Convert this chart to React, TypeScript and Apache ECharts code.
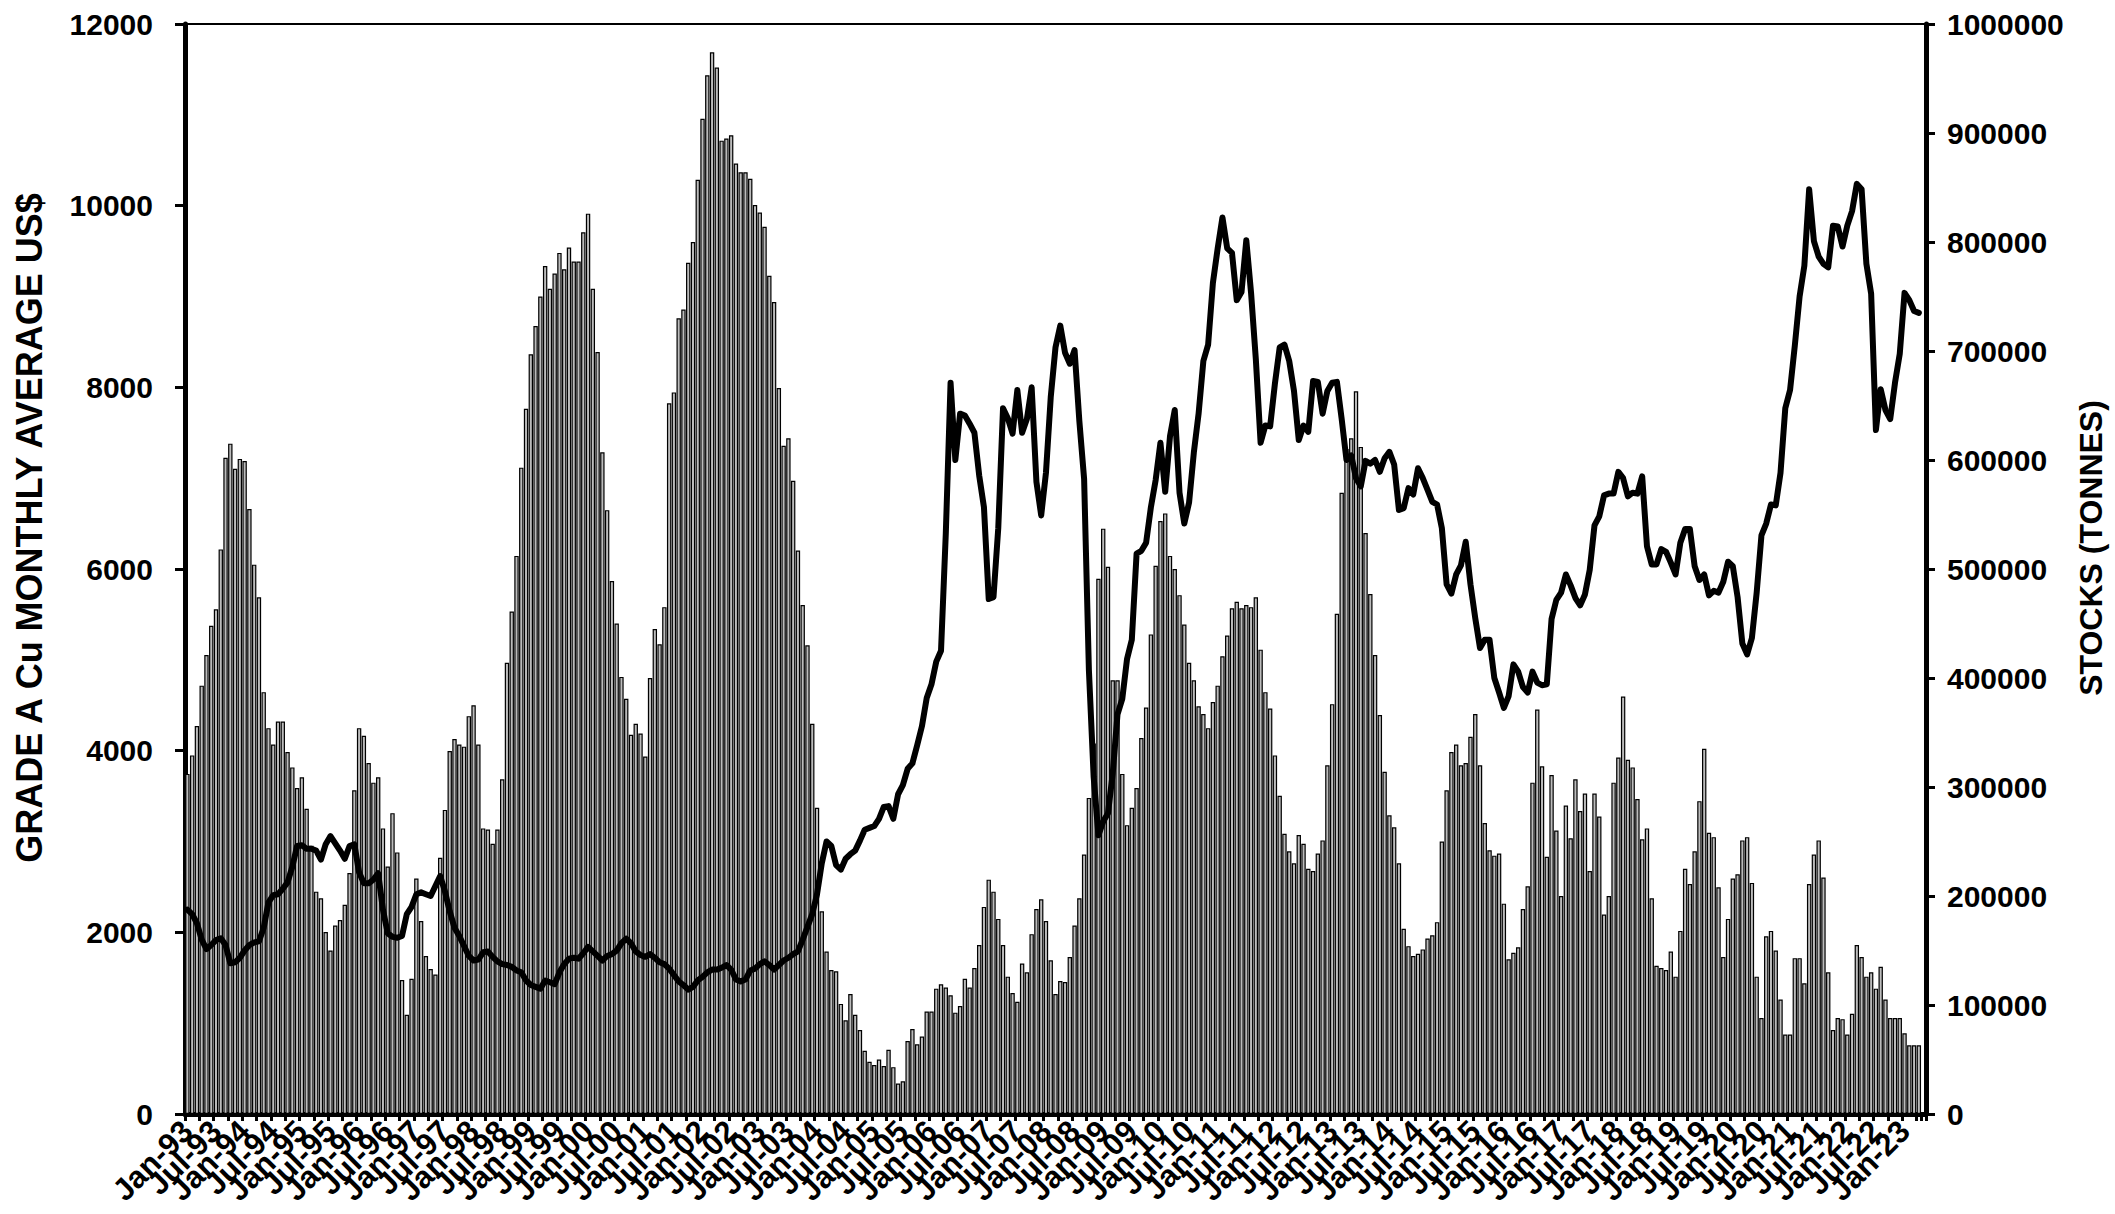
import React, { useEffect, useRef } from 'react';
import * as echarts from 'echarts';

// ---- categories ----
const MONTHS = ['Jan', 'Feb', 'Mar', 'Apr', 'May', 'Jun', 'Jul', 'Aug', 'Sep', 'Oct', 'Nov', 'Dec'];
const FIRST_YEAR = 1993;
const CATEGORY_COUNT = 365; // Jan-93 .. May-23 (last slot empty)
const LABEL_EVERY = 6; // a label every six months

// ---- Grade A Cu monthly average price, US$/t (left axis) ----
const PRICE_1993_1999 = [
  2250, 2200, 2100, 1920, 1815, 1860, 1915, 1935, 1860, 1660, 1670, 1720,
  1800, 1860, 1890, 1900, 2050, 2330, 2410, 2420, 2480, 2550, 2720, 2950,
  2960, 2920, 2920, 2900, 2800, 2970, 3060, 2980, 2900, 2810, 2950, 2970,
  2660, 2540, 2540, 2580, 2650, 2250, 1990, 1950, 1940, 1960, 2200, 2280,
  2420, 2440, 2420, 2400, 2510, 2620, 2450, 2230, 2050, 1960, 1850, 1740,
  1690, 1700, 1780, 1790, 1730, 1680, 1650, 1640, 1620, 1580, 1560, 1470,
  1420, 1400, 1380, 1470, 1450, 1430, 1560, 1650, 1710, 1720, 1710, 1770,
];
const PRICE_2000_2009 = [
  1840, 1790, 1740, 1690, 1740, 1760, 1800, 1880, 1930, 1880, 1790, 1750,
  1730, 1760, 1720, 1670, 1650, 1600, 1530, 1460, 1420, 1370, 1400, 1470,
  1510, 1560, 1590, 1590, 1610, 1640, 1590, 1480, 1460, 1480, 1580, 1600,
  1650, 1680, 1640, 1590, 1640, 1690, 1720, 1760, 1790, 1920, 2060, 2200,
  2420, 2760, 3000, 2950, 2740, 2690, 2810, 2860, 2900, 3010, 3130, 3150,
  3170, 3250, 3380, 3390, 3250, 3520, 3620, 3800, 3860, 4060, 4270, 4580,
  4730, 4980, 5100, 6390, 8050, 7200, 7710, 7690, 7600, 7500, 7030, 6680,
  5670, 5690, 6450, 7770, 7660, 7490, 7970, 7500, 7650, 8000, 6960, 6590,
  7060, 7890, 8440, 8680, 8380, 8260, 8410, 7630, 6990, 4890, 3710, 3070,
  3220, 3310, 3750, 4400, 4570, 5010, 5220, 6170, 6200, 6290, 6680, 6980,
];
const PRICE_2010_2019 = [
  7390, 6850, 7460, 7750, 6840, 6500, 6730, 7280, 7710, 8290, 8470, 9150,
  9530, 9870, 9530, 9480, 8960, 9050, 9620, 9040, 8310, 7390, 7580, 7570,
  8040, 8440, 8470, 8290, 7960, 7420, 7580, 7510, 8070, 8060, 7710, 7960,
  8050, 8060, 7650, 7200, 7250, 7000, 6910, 7190, 7160, 7200, 7070, 7220,
  7290, 7150, 6650, 6670, 6890, 6820, 7110, 7000, 6870, 6740, 6710, 6450,
  5830, 5730, 5940, 6040, 6300, 5830, 5460, 5130, 5220, 5220, 4800, 4640,
  4470, 4600, 4950, 4870, 4700, 4640, 4870, 4750, 4720, 4730, 5450, 5660,
  5740, 5940, 5820, 5680, 5600, 5720, 5990, 6480, 6580, 6810, 6830, 6830,
  7070, 7000, 6800, 6840, 6830, 7020, 6250, 6050, 6050, 6220, 6190, 6070,
  5940, 6290, 6440, 6440, 6030, 5880, 5940, 5710, 5760, 5740, 5860, 6080,
];
const PRICE_2020_2023 = [
  6030, 5690, 5180, 5060, 5240, 5740, 6370, 6500, 6710, 6700, 7060, 7770,
  7970, 8460, 9000, 9340, 10180, 9610, 9440, 9360, 9320, 9780, 9770, 9550,
  9780, 9940, 10240, 10180, 9360, 9030, 7530, 7980, 7750, 7650, 8050, 8370,
  9040, 8960, 8840, 8820,
];

// ---- Stocks, tonnes (right axis) ----
const STOCKS_1993_1999 = [
  312000, 329000, 356000, 393000, 421000, 448000, 463000, 518000, 602000, 615000, 592000, 601000,
  599000, 555000, 504000, 474000, 387000, 354000, 339000, 360000, 360000, 332000, 318000, 299000,
  309000, 280000, 246000, 204000, 198000, 167000, 150000, 173000, 178000, 192000, 221000, 297000,
  354000, 347000, 322000, 304000, 309000, 262000, 227000, 276000, 240000, 123000, 91000, 124000,
  216000, 177000, 145000, 133000, 128000, 235000, 279000, 333000, 344000, 339000, 337000, 365000,
  375000, 339000, 262000, 261000, 248000, 261000, 307000, 414000, 461000, 512000, 593000, 647000,
  697000, 723000, 750000, 778000, 757000, 771000, 790000, 775000, 795000, 782000, 782000, 809000,
];
const STOCKS_2000_2009 = [
  826000, 757000, 699000, 607000, 554000, 489000, 450000, 401000, 381000, 348000, 358000, 349000,
  328000, 400000, 445000, 431000, 465000, 652000, 662000, 730000, 738000, 781000, 800000, 857000,
  913000, 953000, 974000, 960000, 893000, 895000, 898000, 872000, 864000, 864000, 858000, 834000,
  827000, 814000, 769000, 745000, 666000, 613000, 620000, 581000, 517000, 467000, 430000, 358000,
  281000, 186000, 149000, 132000, 131000, 101000, 86000, 110000, 91000, 77000, 58000, 48000,
  45000, 50000, 44000, 59000, 43000, 28000, 30000, 67000, 78000, 64000, 71000, 94000,
  94000, 115000, 119000, 116000, 109000, 93000, 99000, 124000, 116000, 134000, 155000, 190000,
  215000, 204000, 179000, 155000, 126000, 111000, 103000, 138000, 130000, 165000, 188000, 197000,
  177000, 141000, 110000, 122000, 121000, 144000, 173000, 198000, 238000, 290000, 340000, 491000,
  537000, 502000, 398000, 398000, 312000, 265000, 281000, 299000, 345000, 373000, 440000, 503000,
];
const STOCKS_2010_2019 = [
  544000, 551000, 512000, 500000, 476000, 449000, 414000, 398000, 374000, 367000, 354000, 378000,
  393000, 420000, 439000, 464000, 470000, 464000, 467000, 465000, 474000, 426000, 387000, 372000,
  329000, 292000, 257000, 241000, 230000, 256000, 248000, 225000, 223000, 239000, 251000, 320000,
  376000, 459000, 570000, 610000, 620000, 663000, 612000, 533000, 477000, 421000, 366000, 314000,
  274000, 263000, 230000, 170000, 154000, 145000, 147000, 151000, 161000, 164000, 176000, 250000,
  297000, 332000, 339000, 320000, 322000, 346000, 367000, 320000, 267000, 242000, 237000, 239000,
  193000, 142000, 148000, 153000, 188000, 209000, 304000, 371000, 319000, 236000, 311000, 260000,
  200000, 283000, 253000, 307000, 278000, 294000, 223000, 294000, 273000, 183000, 200000, 304000,
  327000, 383000, 325000, 318000, 289000, 252000, 262000, 198000, 136000, 134000, 132000, 149000,
  126000, 168000, 225000, 211000, 241000, 287000, 335000, 258000, 254000, 208000, 144000, 179000,
];
const STOCKS_2020_2023 = [
  216000, 220000, 251000, 254000, 212000, 126000, 88000, 163000, 168000, 150000, 105000, 73000,
  73000, 143000, 143000, 120000, 211000, 238000, 251000, 217000, 130000, 77000, 88000, 87000,
  73000, 92000, 155000, 144000, 126000, 130000, 115000, 135000, 105000, 88000, 88000, 88000,
  74000, 63000, 63000, 63000,
];

const LEFT_TITLE = 'GRADE A Cu MONTHLY AVERAGE US$';
const RIGHT_TITLE = 'STOCKS (TONNES)';

const FONT = '"Liberation Sans", Arial, Helvetica, sans-serif';

export default function App() {
  const ref = useRef<HTMLDivElement>(null);

  useEffect(() => {
    document.body.style.margin = '0';
    if (!ref.current) return;
    const chart = echarts.init(ref.current, null, { renderer: 'svg' });

    const categories: string[] = [];
    for (let i = 0; i < CATEGORY_COUNT; i++) {
      const yy = String((FIRST_YEAR + Math.floor(i / 12)) % 100).padStart(2, '0');
      categories.push(`${MONTHS[i % 12]}-${yy}`);
    }
    const price = [...PRICE_1993_1999, ...PRICE_2000_2009, ...PRICE_2010_2019, ...PRICE_2020_2023];
    const stocks = [...STOCKS_1993_1999, ...STOCKS_2000_2009, ...STOCKS_2010_2019, ...STOCKS_2020_2023];

    const plain = (v: number) => String(v);

    chart.setOption({
      animation: false,
      backgroundColor: '#ffffff',
      textStyle: { fontFamily: FONT },
      grid: {
        left: 185,
        right: 189,
        top: 24,
        bottom: 100,
        show: true,
        borderColor: '#000',
        borderWidth: 2,
        backgroundColor: 'transparent',
      },
      xAxis: {
        type: 'category',
        data: categories,
        boundaryGap: true,
        axisLine: { show: true, lineStyle: { color: '#000', width: 5 } },
        axisTick: { show: true, interval: 2, length: 7, lineStyle: { color: '#000', width: 3 } },
        axisLabel: {
          interval: 0,
          formatter: (value: string, index: number) =>
            index % LABEL_EVERY === 0 && index < CATEGORY_COUNT - 1 ? value : '',
          rotate: 45,
          margin: 12,
          fontSize: 31,
          fontWeight: 'bold',
          fontFamily: FONT,
          color: '#000',
        },
        splitLine: { show: false },
      },
      yAxis: [
        {
          type: 'value',
          position: 'left',
          min: 0,
          max: 12000,
          interval: 2000,
          axisLine: { show: true, lineStyle: { color: '#000', width: 5 } },
          axisTick: { show: true, length: 10, lineStyle: { color: '#000', width: 3 } },
          axisLabel: {
            formatter: plain,
            margin: 32,
            fontSize: 30,
            fontWeight: 'bold',
            fontFamily: FONT,
            color: '#000',
          },
          splitLine: { show: false },
        },
        {
          type: 'value',
          position: 'right',
          min: 0,
          max: 1000000,
          interval: 100000,
          axisLine: { show: true, lineStyle: { color: '#000', width: 5 } },
          axisTick: { show: true, length: 9, lineStyle: { color: '#000', width: 3 } },
          axisLabel: {
            formatter: plain,
            margin: 21,
            fontSize: 30,
            fontWeight: 'bold',
            fontFamily: FONT,
            color: '#000',
          },
          splitLine: { show: false },
        },
      ],
      series: [
        {
          type: 'bar',
          name: 'Stocks',
          yAxisIndex: 1,
          data: stocks,
          barCategoryGap: '8%',
          itemStyle: { color: '#bcbcbc', borderColor: '#000', borderWidth: 1.2 },
          z: 2,
        },
        {
          type: 'line',
          name: 'Price',
          yAxisIndex: 0,
          data: price,
          symbol: 'none',
          lineStyle: { color: '#000', width: 6, join: 'round', cap: 'round' },
          z: 3,
        },
      ],
      graphic: [
        {
          type: 'text',
          x: 29,
          y: 528,
          rotation: Math.PI / 2,
          style: {
            text: LEFT_TITLE,
            fontSize: 36,
            fontWeight: 'bold',
            fontFamily: FONT,
            fill: '#000',
            align: 'center',
            verticalAlign: 'middle',
          },
        },
        {
          type: 'text',
          x: 2091,
          y: 548,
          rotation: Math.PI / 2,
          style: {
            text: RIGHT_TITLE,
            fontSize: 32,
            fontWeight: 'bold',
            fontFamily: FONT,
            fill: '#000',
            align: 'center',
            verticalAlign: 'middle',
          },
        },
      ],
    });

    return () => chart.dispose();
  }, []);

  return (
    <div
      ref={ref}
      style={{ position: 'absolute', left: 0, top: 0, width: 2115, height: 1214 }}
    />
  );
}
